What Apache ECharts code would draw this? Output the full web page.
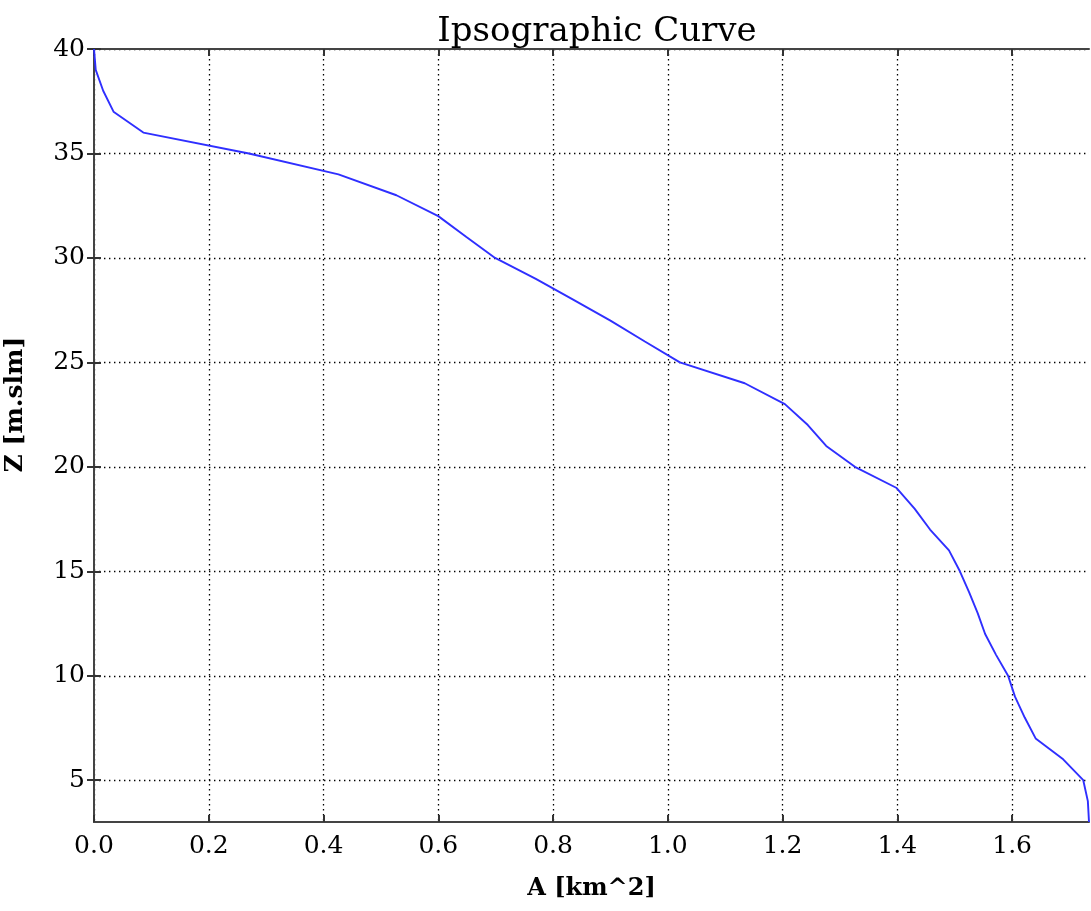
<!DOCTYPE html>
<html>
<head>
<meta charset="utf-8">
<script src="https://cdn.jsdelivr.net/npm/echarts@6/dist/echarts.min.js"></script>
<style>
html,body{margin:0;padding:0;background:#fff;}
#chart{width:1091px;height:911px;}
</style>
</head>
<body>
<div id="chart"></div>
<script>
// Elevation (m a.s.l.) and cumulative area above it (km^2)
const elevM = [40,39,38,37,36,35,34,33,32,31,30,29,28,27,26,25,24,23,22,21,20,19,18,17,16,15,14,13,12,11,10,9,8,7,6,5,4,3];
const areaKm2 = [0,0.003,0.016,0.034,0.086,0.27,0.426,0.527,0.600,0.649,0.699,0.77,0.835,0.90,0.96,1.021,1.134,1.204,1.244,1.276,1.326,1.398,1.43,1.457,1.490,1.509,1.525,1.540,1.553,1.572,1.593,1.605,1.622,1.641,1.689,1.724,1.732,1.734];
const xTicks = [0,0.2,0.4,0.6,0.8,1.0,1.2,1.4,1.6];
const yTicks = [5,10,15,20,25,30,35,40];
const xRange = [0, 1.734];
const yRange = [3, 40];

const points = areaKm2.map((a, i) => [a, elevM[i]]);
const serif = 'DejaVu Serif';
const frame = {show: true, lineStyle: {color: '#444', width: 2}};
const tick = {show: true, inside: true, length: 7, lineStyle: {color: '#333', width: 2}};
const dotted = {show: true, lineStyle: {type: [1.4, 3.6], color: '#000', width: 1.3}};

const chart = echarts.init(document.getElementById('chart'), null, {renderer: 'canvas'});
chart.setOption({
  animation: false,
  backgroundColor: '#fff',
  title: {
    text: 'Ipsographic Curve', left: 592, textAlign: 'center', top: 10,
    textStyle: {fontFamily: serif, fontSize: 34, fontWeight: 'normal', color: '#000'}
  },
  grid: {left: 94, right: 2, top: 49, bottom: 89, containLabel: false, outerBoundsMode: 'none'},
  xAxis: [{
    type: 'value', position: 'bottom', min: xRange[0], max: xRange[1],
    axisLine: frame,
    axisTick: Object.assign({customValues: xTicks}, tick),
    axisLabel: {customValues: xTicks, formatter: v => v.toFixed(1), fontFamily: serif, fontSize: 25, color: '#000', margin: 12},
    splitLine: dotted,
    name: 'A [km^2]', nameLocation: 'middle', nameGap: 55,
    nameTextStyle: {fontFamily: serif, fontSize: 24, fontWeight: 'bold', color: '#000'}
  }, {
    type: 'value', position: 'top', min: xRange[0], max: xRange[1],
    axisLine: frame,
    axisTick: Object.assign({customValues: xTicks}, tick),
    axisLabel: {show: false}, splitLine: {show: false}
  }],
  yAxis: [{
    type: 'value', position: 'left', min: yRange[0], max: yRange[1],
    axisLine: frame,
    axisTick: Object.assign({customValues: yTicks}, tick),
    axisLabel: {customValues: yTicks, fontFamily: serif, fontSize: 25, color: '#000', margin: 9},
    splitLine: dotted,
    name: 'Z [m.slm]', nameLocation: 'middle', nameGap: 66, nameRotate: 90,
    nameTextStyle: {fontFamily: serif, fontSize: 25, fontWeight: 'bold', color: '#000', padding: [0, 0, 0, 62]}
  }, {
    type: 'value', position: 'right', min: yRange[0], max: yRange[1],
    axisLine: frame,
    axisTick: Object.assign({customValues: yTicks}, tick),
    axisLabel: {show: false}, splitLine: {show: false}
  }],
  series: [{
    type: 'line', data: points, xAxisIndex: 0, yAxisIndex: 0,
    showSymbol: false, smooth: false,
    lineStyle: {color: '#2f2fff', width: 1.9}
  }]
});
</script>
</body>
</html>
